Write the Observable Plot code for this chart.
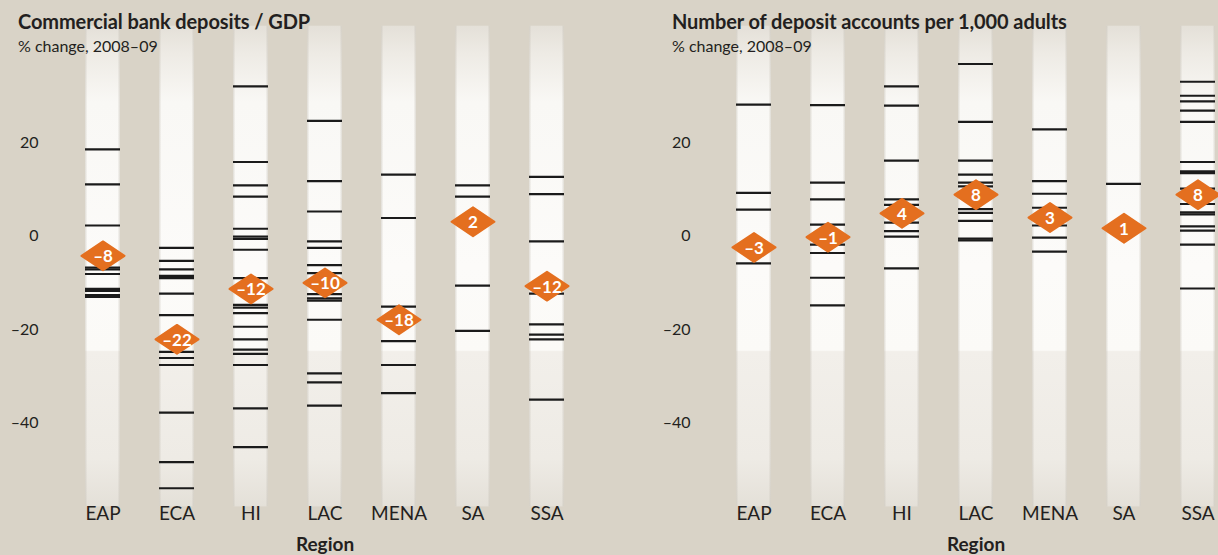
<!DOCTYPE html>
<html>
<head>
<meta charset="utf-8">
<script src="https://cdn.jsdelivr.net/npm/d3@7"></script>
<script src="https://cdn.jsdelivr.net/npm/@observablehq/plot@0.6"></script>
<style>
  html, body { margin: 0; padding: 0; }
  body { background: #d9d3c7; width: 1218px; height: 555px; overflow: hidden; font-family: Lato, "Noto Sans", sans-serif; color: #231f20; }
  #wrap { position: relative; width: 1218px; height: 555px; display: flex; }
  #wrap > div.panel { position: relative; width: 609px; height: 555px; }
  .title { position: absolute; font-weight: 700; font-size: 20px; line-height: 1.2; white-space: nowrap; z-index: 2; letter-spacing: -0.1px; }
  .subtitle { position: absolute; font-weight: 400; font-size: 16px; line-height: 1.2; white-space: nowrap; z-index: 2; }
  svg { position: absolute; left: 0; top: 0; }
</style>
</head>
<body>
<div id="wrap">
  <div class="panel" id="left">
    <div class="title" style="left:18px; top:9px;">Commercial bank deposits / GDP</div>
    <div class="subtitle" style="left:18px; top:36px;">% change, 2008–09</div>
  </div>
  <div class="panel" id="right">
    <div class="title" style="left:63px; top:9px;">Number of deposit accounts per 1,000 adults</div>
    <div class="subtitle" style="left:63px; top:36px;">% change, 2008–09</div>
  </div>
</div>
<script>
// ---- Data ----
const regions = ["EAP", "ECA", "HI", "LAC", "MENA", "SA", "SSA"];

// Commercial bank deposits / GDP, % change 2008–09: one list per region (same order as regions)
const gdpValues = [
  [18.6, 11.1, 2.3, -6.7, -7.1, -8.1, -11.3, -11.7, -12.6, -13.0],
  [-2.5, -5.3, -7.1, -8.5, -9.0, -12.3, -16.9, -24.8, -26.1, -27.6, -37.8, -48.4, -54.0],
  [32.1, 15.9, 10.9, 8.5, 1.6, -0.1, -0.6, -2.9, -9.0, -14.7, -15.3, -16.5, -19.4, -22.1, -24.3, -25.2, -27.6, -36.9, -45.2],
  [24.7, 11.8, 5.3, -1.1, -2.5, -6.2, -7.9, -12.4, -13.3, -13.8, -17.9, -29.4, -31.3, -36.3],
  [13.2, 3.9, -15.1, -22.5, -27.6, -33.6],
  [10.9, 8.5, -10.6, -20.3],
  [12.7, 9.0, -1.1, -12.3, -18.9, -21.1, -22.1, -35.0]
];
const gdpMarkerPos = [-4.2, -22.1, -11.3, -10.0, -17.9, 3.1, -10.7];
const gdpMarkerLabel = ["–8", "–22", "–12", "–10", "–18", "2", "–12"];

// Number of deposit accounts per 1,000 adults, % change 2008–09
const acctValues = [
  [28.2, 9.3, 5.7, -5.8],
  [28.1, 11.5, 7.9, 2.5, -1.8, -3.6, -8.9, -14.8],
  [32.1, 28.0, 16.2, 7.9, 6.7, 2.9, 1.1, -0.1, -6.9],
  [36.9, 24.5, 16.2, 13.2, 11.5, 10.7, 5.8, 5.0, 3.3, -0.5, -0.9],
  [22.9, 11.8, 9.1, 6.1, 2.3, -0.3, -3.3],
  [11.2, 1.7],
  [33.1, 30.1, 28.9, 26.9, 24.5, 15.9, 13.9, 13.5, 10.2, 6.9, 5.1, 4.7, 2.1, 1.2, -1.8, -11.2]
];
const acctMarkerPos = [-2.4, -0.2, 4.9, 8.9, 4.0, 1.7, 8.9];
const acctMarkerLabel = ["–3", "–1", "4", "8", "3", "1", "8"];

const yTicks = [20, 0, -20, -40];
const yTickLabels = ["20", "0", "–20", "–40"];
const stripExtent = [-58, 45];
const xAxisTitle = "Region";

// ---- Drawing ----
const ORANGE = "#e46f1f";

const wideDiamond = {
  draw(ctx, size) {
    const r = Math.sqrt(size / Math.PI);
    const w = r, h = r * 0.67;
    ctx.moveTo(-w, 0);
    ctx.lineTo(0, -h);
    ctx.lineTo(w, 0);
    ctx.lineTo(0, h);
    ctx.closePath();
  }
};

function panel({values, markerPos, markerLabel, xRange, marginLeft, gid}) {
  const lines = values.flatMap((vals, i) => vals.map(v => ({region: regions[i], value: v})));
  const markers = regions.map((r, i) => ({region: r, value: markerPos[i], label: markerLabel[i]}));
  const strips = regions.map(r => ({region: r, lo: stripExtent[0], hi: stripExtent[1]}));

  const defs = () => {
    const d = d3.create("svg:defs");
    const g = d.append("linearGradient").attr("id", gid).attr("x1", 0).attr("x2", 0).attr("y1", 0).attr("y2", 1);
    [[0, "#e4e0d8"], [0.06, "#eeebe5"], [0.16, "#f9f8f5"], [0.5, "#fcfbf9"], [0.675, "#fbfaf7"],
     [0.678, "#f2efea"], [0.9, "#eeebe5"], [1, "#e4e0d8"]]
      .forEach(([o, c]) => g.append("stop").attr("offset", o).attr("stop-color", c));
    const e = d.append("linearGradient").attr("id", gid + "e").attr("x1", 0).attr("x2", 1).attr("y1", 0).attr("y2", 0);
    [[0, "rgba(190,184,172,0.45)"], [0.07, "rgba(190,184,172,0)"], [0.93, "rgba(190,184,172,0)"], [1, "rgba(190,184,172,0.45)"]]
      .forEach(([o, c]) => e.append("stop").attr("offset", o).attr("stop-color", c));
    return d.node();
  };

  return Plot.plot({
    width: 609,
    height: 555,
    marginLeft,
    marginRight: 0,
    marginTop: 26,
    marginBottom: 49,
    style: {background: "transparent", fontFamily: "Lato, 'Noto Sans', sans-serif", color: "#231f20", overflow: "visible"},
    x: {type: "band", domain: regions, range: xRange, paddingInner: 0.532, paddingOuter: 0},
    y: {domain: [-58, 45], range: [506.4, 25.7]},
    marks: [
      defs,
      Plot.barY(strips, {x: "region", y1: "lo", y2: "hi", fill: `url(#${gid})`}),
      Plot.barY(strips, {x: "region", y1: "lo", y2: "hi", fill: `url(#${gid}e)`}),
      Plot.tickY(lines, {x: "region", y: "value", stroke: "#1b1b1b", strokeWidth: 2.2}),
      Plot.dot(markers, {x: "region", y: "value", symbol: wideDiamond, r: 21.5, fill: ORANGE, stroke: ORANGE, strokeWidth: 2, strokeLinejoin: "round"}),
      Plot.text(markers, {x: "region", y: "value", text: "label", fill: "white", fontWeight: "bold", fontSize: 17, dy: 1}),
      Plot.axisY(yTicks, {tickSize: 0, tickPadding: 6, fontSize: 16, label: null,
        tickFormat: d => yTickLabels[yTicks.indexOf(d)]}),
      Plot.axisX({tickSize: 0, tickPadding: 0, fontSize: 19, label: null}),
      Plot.text([xAxisTitle], {x: () => regions[3], frameAnchor: "bottom", dy: 44, fontSize: 19, fontWeight: "bold", fill: "#231f20"})
    ]
  });
}

const left = panel({values: gdpValues, markerPos: gdpMarkerPos, markerLabel: gdpMarkerLabel,
  xRange: [82, 566], marginLeft: 44, gid: "gL"});
const right = panel({values: acctValues, markerPos: acctMarkerPos, markerLabel: acctMarkerLabel,
  xRange: [125, 607], marginLeft: 87, gid: "gR"});
document.getElementById("left").prepend(left);
document.getElementById("right").prepend(right);
</script>
</body>
</html>
